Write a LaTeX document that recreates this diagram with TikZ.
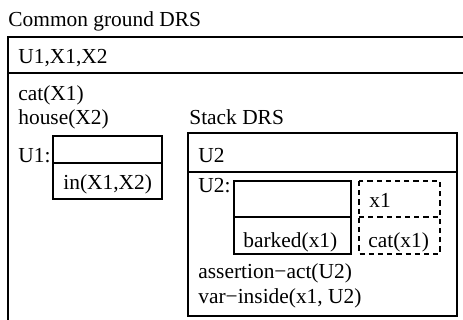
\documentclass[tikz,border=0pt]{standalone}
\usepackage{fontspec}
\setmainfont{Liberation Serif}
\usetikzlibrary{positioning}
\tikzset{
  frame/.style={draw, line width=0.6pt},
  dashframe/.style={frame, dash pattern=on 2.6pt off 2pt},
  cond/.style={anchor=base west, inner sep=0pt, font=\fontsize{10.7}{13}\selectfont},
}

\begin{document}
\begin{tikzpicture}[x=0.5pt, y=-0.5pt]
\clip (0,0) rectangle (463,320);

% Common ground DRS
\node[cond] (cgtitle) at (8,27) {Common ground DRS};
\coordinate (cgnw) at (8,37);
\coordinate (cgse) at (476,332);
\coordinate (cgdiv) at (8,73);
\draw[frame] (cgnw) rectangle (cgse);
\draw[frame] (cgdiv) -- (cgdiv -| cgse);
\node[cond] (cguniv) at (18,64) {U1,X1,X2};
\node[cond] (catX) at (18,101) {cat(X1)};
\node[cond] (houseX) at (18,125) {house(X2)};

% U1 sub-DRS
\node[cond] (uone) at (18,163) {U1:};
\coordinate (uonenw) at (53,136);
\coordinate (uonese) at (162,199);
\coordinate (uonediv) at (53,163);
\draw[frame] (uonenw) rectangle (uonese);
\draw[frame] (uonediv) -- (uonediv -| uonese);
\node[cond] (inX) at (63,190) {in(X1,X2)};

% Stack DRS
\node[cond] (sttitle) at (189,125) {Stack DRS};
\coordinate (stnw) at (188,133);
\coordinate (stse) at (457,316);
\coordinate (stdiv) at (188,172);
\draw[frame] (stnw) rectangle (stse);
\draw[frame] (stdiv) -- (stdiv -| stse);
\node[cond] (stuniv) at (198,163) {U2};

% U2 sub-DRS
\node[cond] (utwo) at (198,193) {U2:};
\coordinate (barknw) at (234,181);
\coordinate (barkse) at (351,254);
\coordinate (barkdiv) at (234,217);
\draw[frame] (barknw) rectangle (barkse);
\draw[frame] (barkdiv) -- (barkdiv -| barkse);
\node[cond] (barked) at (243,248) {barked(x1)};

% dashed DRS
\coordinate (dashnw) at (359,181);
\coordinate (dashse) at (440,254);
\coordinate (dashdiv) at (359,217);
\draw[dashframe] (dashnw) rectangle (dashse);
\draw[dashframe] (dashdiv) -- (dashdiv -| dashse);
\node[cond] (xone) at (369,208) {x1};
\node[cond] (catx) at (368,248) {cat(x1)};

% Stack conditions
\node[cond] (assert) at (198,279) {assertion−act(U2)};
\node[cond] (varin) at (198,304) {var−inside(x1, U2)};

\end{tikzpicture}
\end{document}
